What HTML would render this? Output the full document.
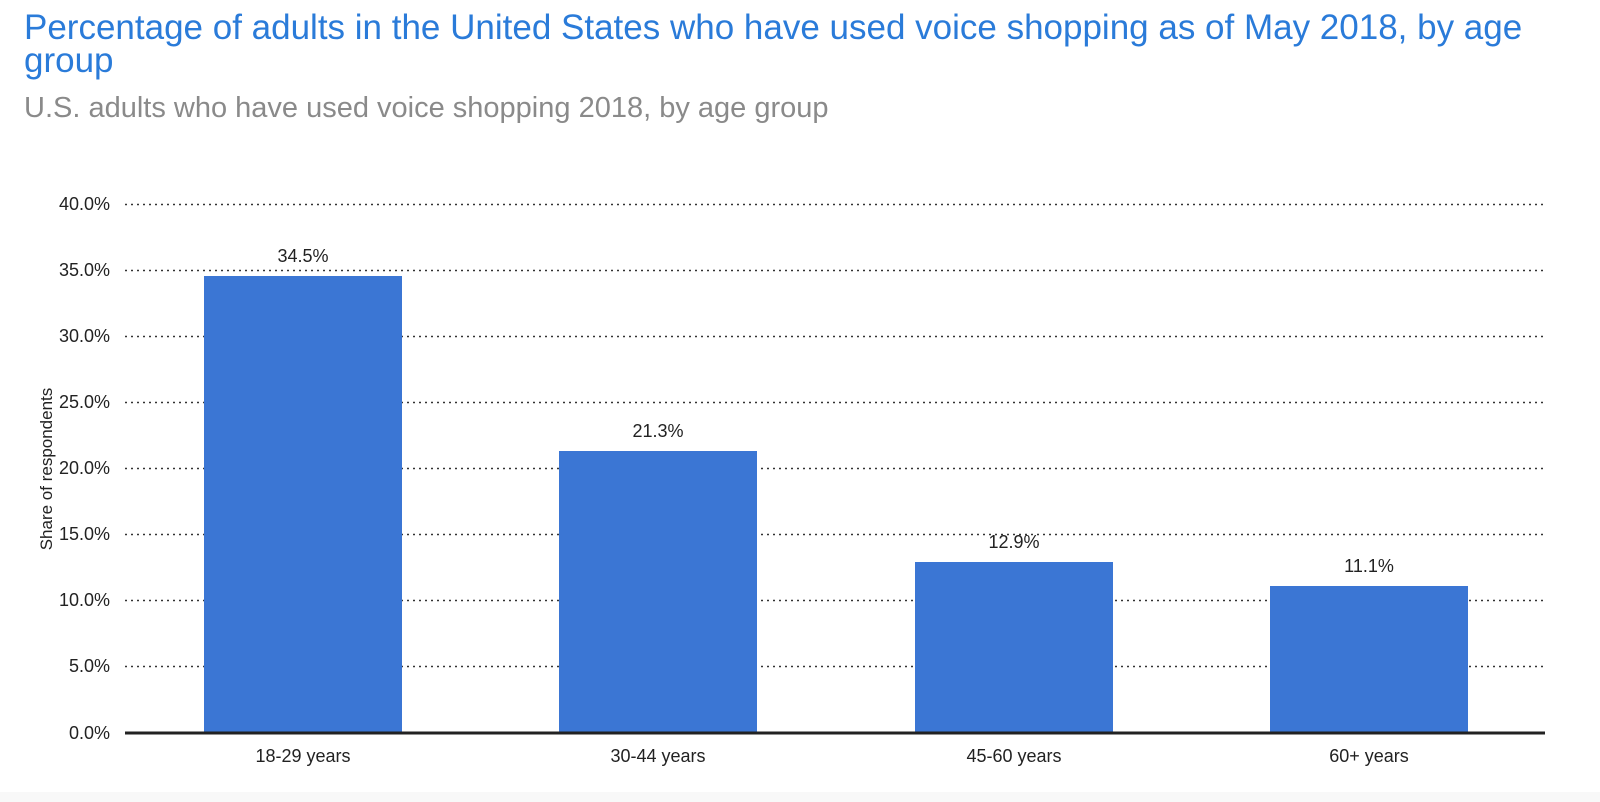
<!DOCTYPE html>
<html><head><meta charset="utf-8"><style>
html,body{margin:0;padding:0;background:#fff;}
svg{display:block;font-family:"Liberation Sans",Arial,sans-serif;}
</style></head><body>
<svg width="1600" height="802" viewBox="0 0 1600 802" xmlns="http://www.w3.org/2000/svg">
<rect x="0" y="0" width="1600" height="802" fill="#fff"/>
<rect x="0" y="792" width="1600" height="10" fill="#f8f8f8"/>
<text x="24" y="39" font-size="35" fill="#2a7bd9">Percentage of adults in the United States who have used voice shopping as of May 2018, by age</text>
<text x="24" y="72" font-size="35" fill="#2a7bd9">group</text>
<text x="24" y="117" font-size="29" fill="#8a8a8a">U.S. adults who have used voice shopping 2018, by age group</text>
<g stroke="#333" stroke-width="1.6" stroke-dasharray="2,4">
<line x1="125" x2="1545" y1="204.5" y2="204.5"/>
<line x1="125" x2="1545" y1="270.5" y2="270.5"/>
<line x1="125" x2="1545" y1="336.5" y2="336.5"/>
<line x1="125" x2="1545" y1="402.5" y2="402.5"/>
<line x1="125" x2="1545" y1="468.5" y2="468.5"/>
<line x1="125" x2="1545" y1="534.5" y2="534.5"/>
<line x1="125" x2="1545" y1="600.5" y2="600.5"/>
<line x1="125" x2="1545" y1="666.5" y2="666.5"/>
</g>
<g font-size="18" fill="#222" text-anchor="end">
<text x="110" y="210">40.0%</text>
<text x="110" y="276">35.0%</text>
<text x="110" y="342">30.0%</text>
<text x="110" y="408">25.0%</text>
<text x="110" y="474">20.0%</text>
<text x="110" y="540">15.0%</text>
<text x="110" y="606">10.0%</text>
<text x="110" y="672">5.0%</text>
<text x="110" y="739">0.0%</text>
</g>
<text transform="translate(52,469) rotate(-90)" font-size="17" fill="#222" text-anchor="middle">Share of respondents</text>
<g fill="#3b76d4">
<rect x="204" y="276" width="198" height="457"/>
<rect x="559" y="451" width="198" height="282"/>
<rect x="915" y="562" width="198" height="171"/>
<rect x="1270" y="586" width="198" height="147"/>
</g>
<line x1="125" x2="1545" y1="733" y2="733" stroke="#222" stroke-width="3"/>
<g font-size="18" fill="#222" text-anchor="middle">
<text x="303" y="262">34.5%</text>
<text x="658" y="437">21.3%</text>
<text x="1014" y="548">12.9%</text>
<text x="1369" y="572">11.1%</text>
<text x="303" y="762">18-29 years</text>
<text x="658" y="762">30-44 years</text>
<text x="1014" y="762">45-60 years</text>
<text x="1369" y="762">60+ years</text>
</g>
</svg>
</body></html>
